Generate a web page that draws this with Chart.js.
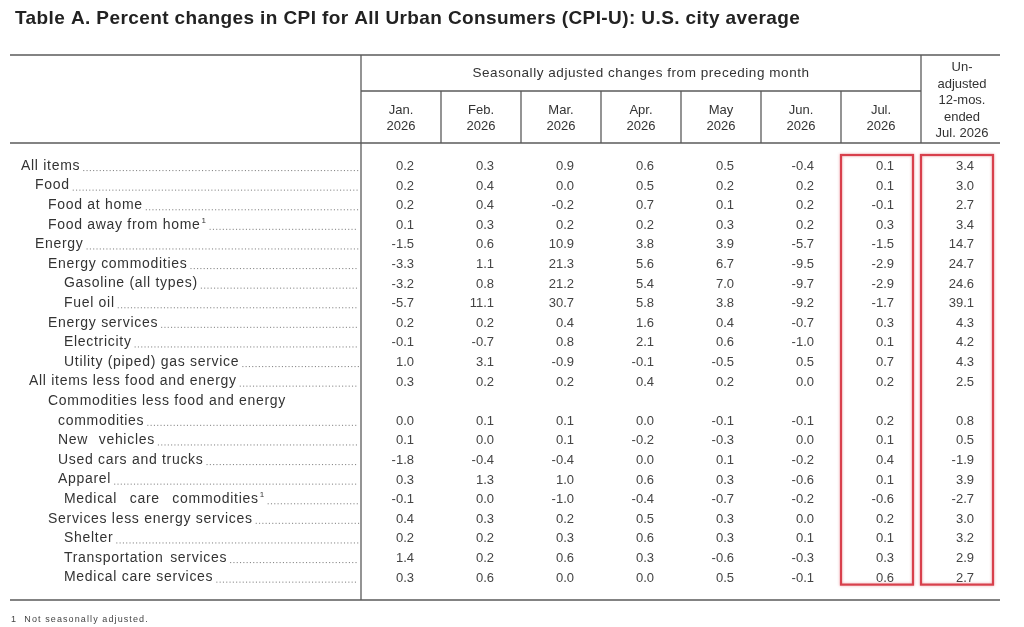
<!DOCTYPE html>
<html><head><meta charset="utf-8">
<script src="https://cdn.jsdelivr.net/npm/chart.js@4.4.1/dist/chart.umd.min.js"></script>
<style>html,body{margin:0;padding:0;background:#fff;}#wrap{width:1024px;height:627px;}</style>
</head><body><div id="wrap"><canvas id="c" width="1024" height="627"></canvas></div>
<script>
// ---------- DATA ----------
const title = 'Table A. Percent changes in CPI for All Urban Consumers (CPI-U): U.S. city average';
const spanner = 'Seasonally adjusted changes from preceding month';
const columns = ['Jan. 2026','Feb. 2026','Mar. 2026','Apr. 2026','May 2026','Jun. 2026','Jul. 2026','Un-adjusted 12-mos. ended Jul. 2026'];
const columnHeaderLines = [['Jan.','2026'],['Feb.','2026'],['Mar.','2026'],['Apr.','2026'],['May','2026'],['Jun.','2026'],['Jul.','2026'],['Un-','adjusted','12-mos.','ended','Jul. 2026']];
const rows = ['All items','Food','Food at home','Food away from home','Energy','Energy commodities','Gasoline (all types)','Fuel oil','Energy services','Electricity','Utility (piped) gas service','All items less food and energy','Commodities less food and energy','commodities','New vehicles','Used cars and trucks','Apparel','Medical care commodities','Services less energy services','Shelter','Transportation services','Medical care services'];
const rowLevels = [0,2,3,3,2,3,5,5,3,5,5,1,3,4,4,4,4,5,3,5,5,5];
const footnoteRows = ['Food away from home','Medical care commodities'];
const jan = [0.2,0.2,0.2,0.1,-1.5,-3.3,-3.2,-5.7,0.2,-0.1,1.0,0.3,null,0.0,0.1,-1.8,0.3,-0.1,0.4,0.2,1.4,0.3];
const feb = [0.3,0.4,0.4,0.3,0.6,1.1,0.8,11.1,0.2,-0.7,3.1,0.2,null,0.1,0.0,-0.4,1.3,0.0,0.3,0.2,0.2,0.6];
const mar = [0.9,0.0,-0.2,0.2,10.9,21.3,21.2,30.7,0.4,0.8,-0.9,0.2,null,0.1,0.1,-0.4,1.0,-1.0,0.2,0.3,0.6,0.0];
const apr = [0.6,0.5,0.7,0.2,3.8,5.6,5.4,5.8,1.6,2.1,-0.1,0.4,null,0.0,-0.2,0.0,0.6,-0.4,0.5,0.6,0.3,0.0];
const may = [0.5,0.2,0.1,0.3,3.9,6.7,7.0,3.8,0.4,0.6,-0.5,0.2,null,-0.1,-0.3,0.1,0.3,-0.7,0.3,0.3,-0.6,0.5];
const jun = [-0.4,0.2,0.2,0.2,-5.7,-9.5,-9.7,-9.2,-0.7,-1.0,0.5,0.0,null,-0.1,0.0,-0.2,-0.6,-0.2,0.0,0.1,-0.3,-0.1];
const jul = [0.1,0.1,-0.1,0.3,-1.5,-2.9,-2.9,-1.7,0.3,0.1,0.7,0.2,null,0.2,0.1,0.4,0.1,-0.6,0.2,0.1,0.3,0.6];
const unadj12 = [3.4,3.0,2.7,3.4,14.7,24.7,24.6,39.1,4.3,4.2,4.3,2.5,null,0.8,0.5,-1.9,3.9,-2.7,3.0,3.2,2.9,2.7];
const highlightedColumns = ['Jul. 2026','Un-adjusted 12-mos. ended Jul. 2026'];
const footnote = '1  Not seasonally adjusted.';

// ---------- STYLE ----------
const FONT = '"Liberation Sans", Arial, Helvetica, sans-serif';
const indentPx = [21, 29, 35, 48, 58, 64];
const extraWordSpacing = {'New vehicles': 6, 'Medical care commodities': 8, 'Transportation services': 2};
const LINE = '#5a5a5a';
const RED = '#d8404c';

const series = [jan, feb, mar, apr, may, jun, jul, unadj12];
const datasets = series.map((vals, ci) => ({
  label: columns[ci],
  data: vals.map((v, ri) => (v === null ? null : {x: columns[ci], y: rows[ri], v: v})).filter(p => p),
  pointRadius: 0,
  pointHoverRadius: 0,
  showLine: false
}));

const tablePlugin = {
  id: 'tablePlugin',
  afterDraw(chart) {
    const ctx = chart.ctx;
    const xs = chart.scales.x, ys = chart.scales.y;
    const ca = chart.chartArea;
    const colX = i => xs.getPixelForValue(i);
    const rowY = i => ys.getPixelForValue(i);
    const colW = colX(1) - colX(0);
    const tableL = 10, tableR = ca.right - 1, stubR = ca.left;
    const topRule = 55, subRule = 91, headRule = 143, botRule = 600;

    ctx.save();
    // title
    ctx.fillStyle = '#222';
    ctx.font = 'bold 19px ' + FONT;
    ctx.letterSpacing = '0.4px';
    ctx.textBaseline = 'middle';
    ctx.textAlign = 'left';
    ctx.fillText(title, 15, 19);
    ctx.letterSpacing = '0px';

    // rules
    ctx.strokeStyle = LINE;
    ctx.lineWidth = 1.6;
    const hl = (x1, x2, y) => { ctx.beginPath(); ctx.moveTo(x1, y); ctx.lineTo(x2, y); ctx.stroke(); };
    const vl = (x, y1, y2) => { ctx.beginPath(); ctx.moveTo(x, y1); ctx.lineTo(x, y2); ctx.stroke(); };
    hl(tableL, tableR, topRule);
    hl(tableL, tableR, headRule);
    hl(tableL, tableR, botRule);
    ctx.lineWidth = 1.3;
    hl(stubR, colX(6) + colW / 2, subRule);
    vl(stubR, topRule, botRule);
    vl(colX(6) + colW / 2, topRule, headRule);
    for (let i = 0; i < 6; i++) vl(colX(i) + colW / 2, subRule, headRule);

    // header text
    ctx.fillStyle = '#333';
    ctx.font = '13.5px ' + FONT;
    ctx.letterSpacing = '0.55px';
    ctx.textAlign = 'center';
    ctx.fillText(spanner, (stubR + colX(6) + colW / 2) / 2, 73);
    ctx.letterSpacing = '0px';
    ctx.font = '13px ' + FONT;
    columnHeaderLines.forEach((lines, ci) => {
      const cx = colX(ci);
      if (lines.length === 2) {
        ctx.fillText(lines[0], cx, 110);
        ctx.fillText(lines[1], cx, 126);
      } else {
        const ys0 = [67, 84, 100, 117, 133];
        lines.forEach((t, k) => ctx.fillText(t, cx + 1, ys0[k]));
      }
    });

    // stub labels with leaders
    rows.forEach((name, ri) => {
      const y = rowY(ri);
      const x = indentPx[rowLevels[ri]];
      ctx.font = '14px ' + FONT;
      ctx.letterSpacing = '0.7px';
      ctx.wordSpacing = (extraWordSpacing[name] || 0) + 'px';
      ctx.textAlign = 'left';
      ctx.fillStyle = '#333';
      ctx.fillText(name, x, y);
      let end = x + ctx.measureText(name).width;
      ctx.letterSpacing = '0px';
      ctx.wordSpacing = '0px';
      if (footnoteRows.includes(name)) {
        ctx.font = '8px ' + FONT;
        ctx.fillText('1', end + 1, y - 4);
        end += 6;
      }
      const hasValue = series[0][ri] !== null;
      if (hasValue) {
        ctx.fillStyle = '#8a8a8a';
        for (let dx = end + 3; dx < stubR - 3; dx += 3.3) ctx.fillRect(dx, y + 4, 1.1, 1.1);
      }
    });

    // values
    ctx.font = '13px ' + FONT;
    ctx.fillStyle = '#444';
    ctx.textAlign = 'right';
    chart.data.datasets.forEach((ds, di) => {
      const meta = chart.getDatasetMeta(di);
      meta.data.forEach((el, j) => {
        const v = ds.data[j].v;
        ctx.fillText(v.toFixed(1), el.x + 13, el.y + 0.5);
      });
    });

    // highlight boxes
    ctx.strokeStyle = RED;
    ctx.lineWidth = 2.2;
    ctx.shadowColor = 'rgba(216,64,76,0.45)';
    ctx.shadowBlur = 3;
    highlightedColumns.forEach(name => {
      const ci = columns.indexOf(name);
      const rx = colX(ci) + 13;
      const top = rowY(0) - 11, bot = rowY(rows.length - 1) + 7;
      ctx.strokeRect(rx - 53, top, 72, bot - top);
    });
    ctx.shadowBlur = 0;

    // footnote
    ctx.fillStyle = '#444';
    ctx.font = '9px ' + FONT;
    ctx.letterSpacing = '1.1px';
    ctx.textAlign = 'left';
    ctx.fillText(footnote, 11, 620);
    ctx.letterSpacing = '0px';
    ctx.restore();
  }
};

new Chart(document.getElementById('c'), {
  type: 'scatter',
  data: { datasets: datasets },
  options: {
    responsive: false,
    animation: false,
    events: [],
    layout: { padding: { left: 361, right: 23, top: 156.2, bottom: 39.6 } },
    scales: {
      x: { type: 'category', labels: columns, offset: true, display: false },
      y: { type: 'category', labels: rows, offset: true, display: false }
    },
    plugins: { legend: { display: false }, tooltip: { enabled: false } }
  },
  plugins: [tablePlugin]
});
</script>
</body></html>
